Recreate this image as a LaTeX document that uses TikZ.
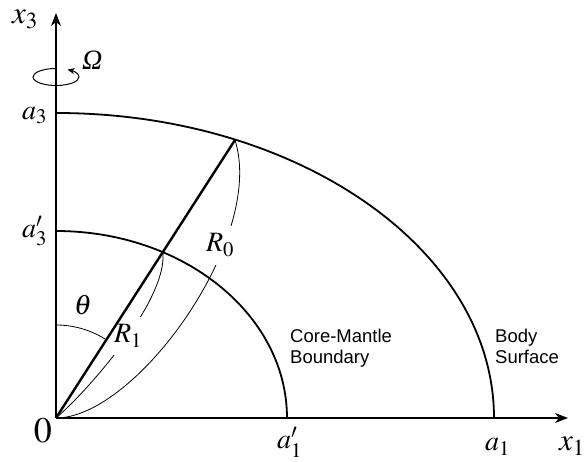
\documentclass[tikz,border=0pt]{standalone}
\usepackage{mathptmx}
\usepackage[no-math]{fontspec}
\newfontfamily\labelsans{Liberation Sans}
\newfontfamily\labelserif{Liberation Serif}
\usetikzlibrary{arrows.meta}
\begin{document}
\begin{tikzpicture}[x=1pt,y=1pt,
  axis/.style={line width=1.3pt,-{Stealth[length=13pt,width=10pt,inset=4pt]}},
  boundary/.style={line width=1.8pt},
  radiusline/.style={line width=2.4pt},
  dimcurve/.style={line width=0.8pt},
  mathlbl/.style={font=\fontsize{28}{32}\selectfont, inner sep=0pt},
  biglbl/.style={font=\fontsize{31}{35}\selectfont, inner sep=0pt},
  sanslbl/.style={font=\labelsans\fontsize{18.5}{21}\selectfont, inner sep=0pt, anchor=base west},
  gaplbl/.style={mathlbl, fill=white, inner xsep=2pt, inner ysep=8pt}]
\useasboundingbox (-56,-44) rectangle (531,418);
\coordinate (O) at (0,0);
\coordinate (X1) at (512,0);
\coordinate (X3) at (0,405);
\coordinate (A1) at (438,0);
\coordinate (A1p) at (231,0);
\coordinate (P0) at (179,278);
\coordinate (P1) at (106.8,165.8);
\coordinate (T0) at (0,93);
\coordinate (W0) at (-0.8,349.5);

% boundaries
\draw[boundary] (A1) arc[start angle=0,end angle=90,x radius=438,y radius=305] coordinate (A3);
\draw[boundary] (A1p) arc[start angle=0,end angle=90,x radius=231,y radius=187] coordinate (A3p);

% dimension curves
\draw[dimcurve] (O) .. controls (80,0) and (210,180) .. (P0);
\draw[dimcurve] (O) .. controls (35,30) and (112,120) .. (P1);
\node[gaplbl, anchor=base] (R0) at (164,166) {$R_0$};
\node[gaplbl, anchor=base] (R1) at (72,75) {$R_1$};

% angle
\draw[dimcurve] (T0) arc[start angle=90,end angle=57.2,radius=93];
\node[mathlbl, anchor=base] (th) at (27,103) {$\theta$};

% radius line
\draw[radiusline] (O) -- (P0);

% axes
\draw[axis] (O) -- (X3);
\draw[axis] (O) -- (X1);

% rotation
\draw[line width=1pt, -{Stealth[length=7pt,width=6pt,inset=2pt]}] (W0) arc[start angle=92,end angle=420,x radius=23,y radius=8.5];
\node[mathlbl, anchor=base west] (om) at (26,348) {\labelserif\itshape Ω};

% axis labels
\node[biglbl, anchor=base west] (x3) at (-44,394) {$x_3$};
\node[biglbl, anchor=base west] (x1) at (503,-33) {$x_1$};
\node[mathlbl, anchor=base west] (a3) at (-34,298.5) {$a_3$};
\node[mathlbl, anchor=base west] (a3p) at (-34,180.5) {$a'_3$};
\node[mathlbl, anchor=base west] (a1) at (429,-33) {$a_1$};
\node[mathlbl, anchor=base west] (a1p) at (221,-31) {$a'_1$};
\node[font=\fontsize{36}{40}\selectfont, inner sep=0pt, anchor=base] (zero) at (-13,-25) {$0$};

% region labels
\node[sanslbl] (cm1) at (234,75) {Core-Mantle};
\node[sanslbl] (cm2) at (234,54) {Boundary};
\node[sanslbl] (bs1) at (439,75) {Body};
\node[sanslbl] (bs2) at (439,54) {Surface};
\end{tikzpicture}
\end{document}
